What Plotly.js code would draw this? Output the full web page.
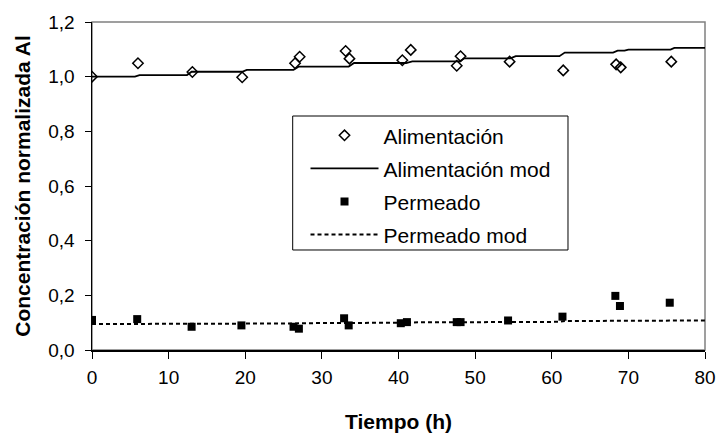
<!DOCTYPE html>
<html><head><meta charset="utf-8">
<script src="https://cdn.plot.ly/plotly-3.0.1.min.js"></script>
<style>html,body{margin:0;padding:0;background:#fff;}#chart{width:720px;height:437px;}</style>
</head><body><div id="chart"></div>
<script>
// Measured data
const alimT = [0, 6.0, 13.1, 19.6, 26.5, 27.1, 33.1, 33.6, 40.5, 41.6, 47.6, 48.1, 54.5, 61.5, 68.4, 69.0, 75.6];
const alimV = [1.000, 1.049, 1.017, 0.998, 1.049, 1.073, 1.094, 1.066, 1.060, 1.098, 1.040, 1.075, 1.055, 1.023, 1.045, 1.034, 1.055];
const permT = [0, 5.9, 13.0, 19.5, 26.3, 27.0, 32.9, 33.5, 40.3, 41.1, 47.6, 48.1, 54.3, 61.4, 68.3, 68.9, 75.4];
const permV = [0.110, 0.113, 0.085, 0.090, 0.085, 0.078, 0.116, 0.090, 0.098, 0.102, 0.102, 0.102, 0.108, 0.122, 0.198, 0.161, 0.173];
const modT = [0, 5.6, 6.2, 12.4, 13.0, 19.6, 20.2, 26.3, 27.0, 33.5, 34.2, 41.0, 41.8, 48.0, 48.6, 54.6, 55.3, 61.0, 61.7, 68.0, 68.6, 69.5, 70.0, 75.5, 76.0, 80];
const alimMod = [1.000, 1.000, 1.006, 1.006, 1.018, 1.018, 1.025, 1.025, 1.037, 1.037, 1.050, 1.050, 1.056, 1.056, 1.067, 1.067, 1.075, 1.075, 1.088, 1.088, 1.095, 1.095, 1.099, 1.099, 1.105, 1.105];
const permMod = [0.095, 0.095, 0.095, 0.095, 0.096, 0.096, 0.097, 0.097, 0.098, 0.098, 0.100, 0.100, 0.101, 0.101, 0.102, 0.102, 0.103, 0.103, 0.106, 0.106, 0.107, 0.107, 0.107, 0.107, 0.108, 0.108];
const names = ['Alimentación', 'Alimentación mod', 'Permeado', 'Permeado mod'];
const xTitle = 'Tiempo (h)';
const yTitle = 'Concentración normalizada Al';

const F = 'Liberation Sans, Arial, sans-serif';
const traces = [
  {x: alimT, y: alimV, name: names[0], mode: 'markers', legendgroup: 'a',
   marker: {symbol: 'diamond-open', size: 8, color: '#000', line: {width: 1.5, color: '#000'}}},
  {x: modT, y: alimMod, name: names[1], mode: 'lines', legendgroup: 'b',
   line: {color: '#000', width: 1.8}},
  {x: permT, y: permV, name: names[2], mode: 'markers', legendgroup: 'c',
   marker: {symbol: 'square', size: 8, color: '#000'}},
  {x: modT, y: permMod, name: names[3], mode: 'lines', legendgroup: 'd',
   line: {color: '#000', width: 2, dash: '4px,3px'}}
];
const layout = {
  width: 720, height: 437,
  margin: {l: 92, r: 15, t: 22, b: 87},
  paper_bgcolor: '#fff', plot_bgcolor: '#fff',
  separators: ',.',
  font: {family: F, size: 19, color: '#000'},
  showlegend: true,
  legend: {x: 0.3483, y: 0.716, xanchor: 'left', yanchor: 'top',
    bgcolor: 'rgba(0,0,0,0)', borderwidth: 0,
    font: {family: F, size: 21, color: '#000'}, traceorder: 'grouped',
    tracegroupgap: 2.8, itemwidth: 68},
  xaxis: {range: [0, 80], dtick: 10, tick0: 0, ticks: 'outside', ticklen: 7, tickcolor: '#000',
    showline: true, linecolor: '#000', linewidth: 1.5, showgrid: false, zeroline: false,
    tickfont: {family: F, size: 19}, fixedrange: true, ticklabelstandoff: 3,
    title: {text: '<b>' + xTitle + '</b>', font: {family: F, size: 21}, standoff: 27}},
  yaxis: {range: [0, 1.2], dtick: 0.2, tick0: 0, tickformat: '.1f', ticks: 'outside', ticklen: 6, tickcolor: '#000',
    showline: true, linecolor: '#000', linewidth: 1.5, showgrid: false, zeroline: false,
    tickfont: {family: F, size: 19}, fixedrange: true, ticklabelstandoff: 6,
    title: {text: '<b>' + yTitle + '</b>', font: {family: F, size: 21}, standoff: 12}},
  shapes: [
    {type: 'rect', xref: 'paper', yref: 'paper', x0: 0, x1: 1, y0: 0, y1: 1,
     line: {color: '#808080', width: 1.5}, layer: 'below'},
    {type: 'rect', xref: 'paper', yref: 'paper', x0: 0.3274, x1: 0.7765, y0: 0.3049, y1: 0.7134,
     fillcolor: '#fff', line: {color: '#000', width: 1}, layer: 'below'}
  ]
};
Plotly.newPlot('chart', traces, layout, {displayModeBar: false, staticPlot: true});
</script></body></html>
